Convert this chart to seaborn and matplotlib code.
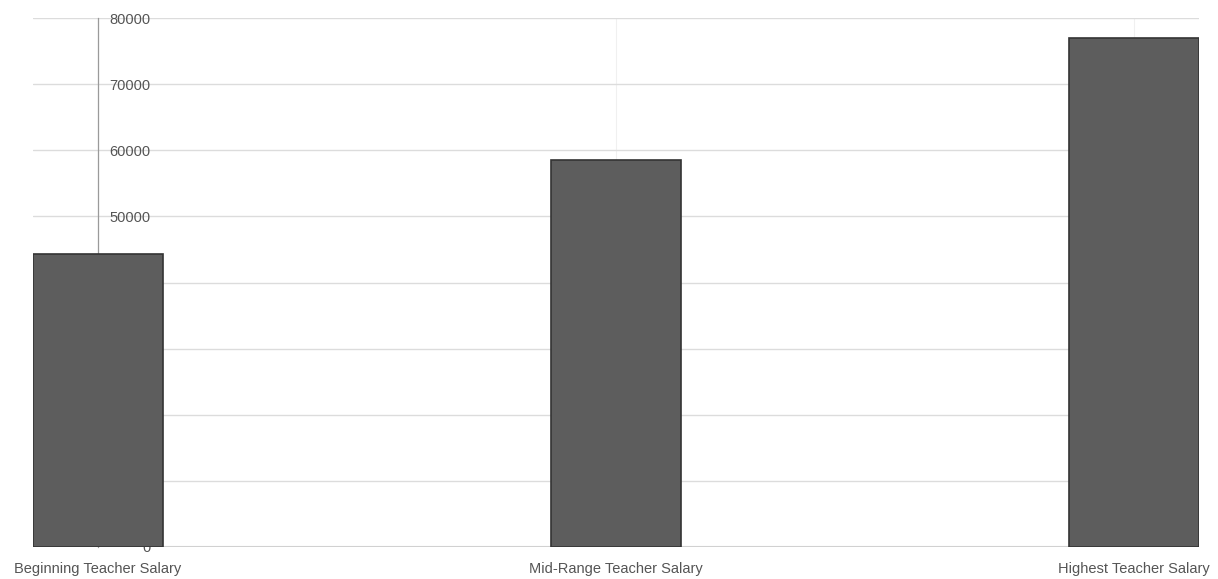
import numpy as np
import pandas as pd
import seaborn as sns
import matplotlib.pyplot as plt

# données
categories = ["Beginning Teacher Salary", "Mid-Range Teacher Salary", "Highest Teacher Salary"]
salaires = [44300, 58500, 77000]
graduations = [0, 10000, 20000, 30000, 40000, 50000, 60000, 70000, 80000]

df = pd.DataFrame({"categorie": categories, "salaire": salaires})

sns.set_style("white")
plt.rcParams["font.family"] = ["Liberation Sans", "DejaVu Sans"]

fig = plt.figure(figsize=(12.18, 5.79), dpi=100)
ax = fig.add_axes([33 / 1218, 32 / 579, 1166 / 1218, 529 / 579])

sns.barplot(data=df, x="categorie", y="salaire", color="#5d5d5d",
            width=0.25, edgecolor="#333333", linewidth=1.2, saturation=1, ax=ax, zorder=3)

ax.set_xlim(-0.125, 2.125)
ax.set_ylim(0, 80000)
ax.set_yticks(graduations)
ax.set_yticklabels([str(v) for v in graduations])
ax.set_axisbelow(True)

# axe vertical placé sur la première catégorie
for cote in ["top", "right", "bottom"]:
    ax.spines[cote].set_visible(False)
ax.spines["left"].set_position(("data", 0))
ax.spines["left"].set_color("#9a9a9a")
ax.spines["left"].set_linewidth(0.9)
ax.spines["left"].set_zorder(0.8)

ax.grid(axis="y", color="#dcdcdc", linewidth=1)
ax.grid(axis="x", color="#f0f0f0", linewidth=0.8)
ax.axhline(0, color="#cfcfcf", linewidth=1.5, zorder=0.4)

ax.tick_params(axis="y", length=0, pad=-38, labelsize=10.5, labelcolor="#555555")
ax.tick_params(axis="x", length=0, pad=11, labelsize=10.5, labelcolor="#555555")
ax.set_xlabel("")
ax.set_ylabel("")

fig.savefig("out.png", dpi=100)
